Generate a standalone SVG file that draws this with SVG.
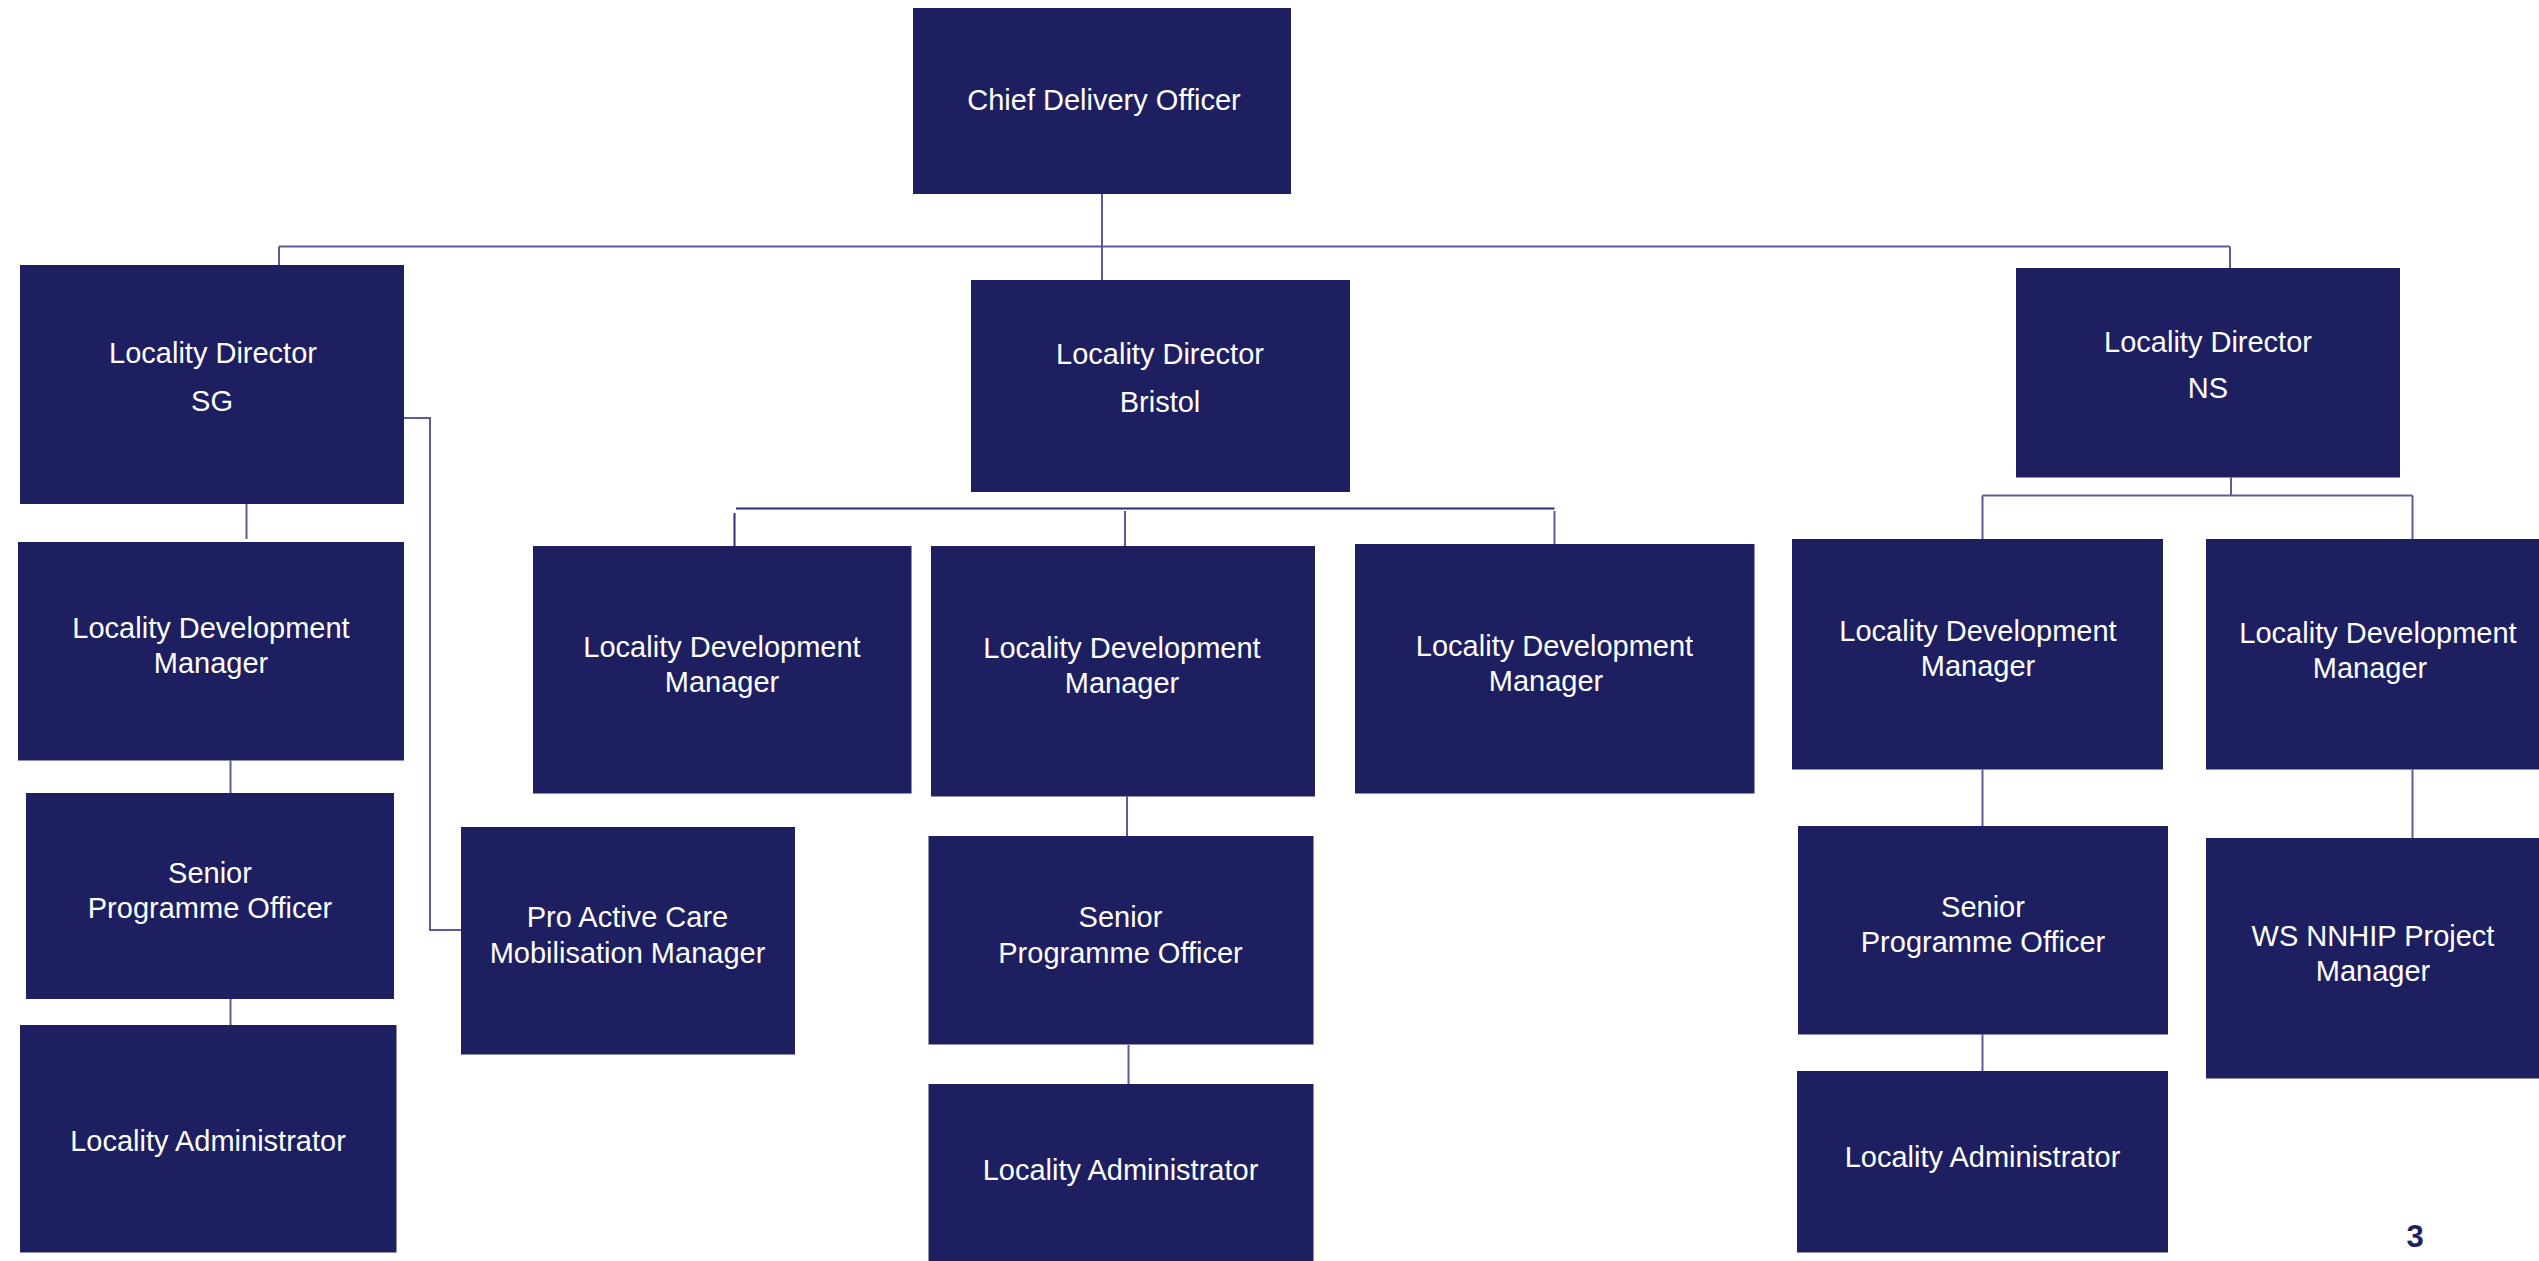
<svg xmlns="http://www.w3.org/2000/svg" width="2539" height="1261" viewBox="0 0 2539 1261">
<style>
.box{fill:#1e1f60}
.t{font-family:"Liberation Sans",Arial,sans-serif;font-size:29px;fill:#ffffff;text-anchor:middle}
.c{fill:none;stroke:#5a5c98;stroke-width:2}
.cd{fill:none;stroke:#2c2e74;stroke-width:2}
.pg{font-family:"Liberation Sans",Arial,sans-serif;font-size:31px;font-weight:bold;fill:#1e1f60;text-anchor:middle}
</style>
<rect width="2539" height="1261" fill="#ffffff"/>
<g id="connectors">
<path class="c" d="M1102,194 V280"/>
<path class="c" d="M279,246.5 H2230"/>
<path class="c" d="M279,246.5 V265"/>
<path class="c" d="M2230,246.5 V268"/>
<path class="c" d="M404,418 H430 V930 H461"/>
<path class="c" d="M246.5,504 V539"/>
<path class="c" d="M230.5,760.5 V793"/>
<path class="c" d="M230.5,999 V1025"/>
<path class="cd" d="M736,508.5 H1554.5"/>
<path class="cd" d="M734.5,513 V546"/>
<path class="c" d="M1125,511 V546"/>
<path class="c" d="M1554.5,511 V544"/>
<path class="c" d="M1127,796.5 V836"/>
<path class="c" d="M1128.5,1045 V1084"/>
<path class="c" d="M2231,477.5 V495.5"/>
<path class="c" d="M1982.5,495.5 H2412.5"/>
<path class="c" d="M1982.5,495.5 V539"/>
<path class="c" d="M2412.5,495.5 V539"/>
<path class="c" d="M1982.5,769.5 V826"/>
<path class="c" d="M1982.5,1034.5 V1071"/>
<path class="c" d="M2412.5,769.5 V838"/>
</g>
<g id="chief"><rect class="box" x="913" y="8" width="378" height="186"/><text class="t" x="1104" y="109.5">Chief Delivery Officer</text></g>
<g id="ld-sg"><rect class="box" x="20" y="265" width="384" height="239"/><text class="t" x="213" y="362.5">Locality Director</text><text class="t" x="212" y="410.5">SG</text></g>
<g id="ld-bristol"><rect class="box" x="971" y="280" width="379" height="212"/><text class="t" x="1160" y="363.5">Locality Director</text><text class="t" x="1160" y="411.5">Bristol</text></g>
<g id="ld-ns"><rect class="box" x="2016" y="268" width="384" height="209.5"/><text class="t" x="2208" y="351.5">Locality Director</text><text class="t" x="2208" y="398">NS</text></g>
<g id="sg-ldm"><rect class="box" x="18" y="542" width="386" height="218.5"/><text class="t" x="211" y="637.5">Locality Development</text><text class="t" x="211" y="673">Manager</text></g>
<g id="sg-spo"><rect class="box" x="26" y="793" width="368" height="206"/><text class="t" x="210" y="883">Senior</text><text class="t" x="210" y="918">Programme Officer</text></g>
<g id="sg-la"><rect class="box" x="20" y="1025" width="376.5" height="227.5"/><text class="t" x="208" y="1150.5">Locality Administrator</text></g>
<g id="sg-pac"><rect class="box" x="461" y="827" width="334" height="227.5"/><text class="t" x="627.5" y="927">Pro Active Care</text><text class="t" x="627.5" y="963">Mobilisation Manager</text></g>
<g id="br-ldm1"><rect class="box" x="533" y="546" width="378.5" height="247.5"/><text class="t" x="722" y="656.5">Locality Development</text><text class="t" x="722" y="692">Manager</text></g>
<g id="br-ldm2"><rect class="box" x="931" y="546" width="384" height="250.5"/><text class="t" x="1122" y="658">Locality Development</text><text class="t" x="1122" y="693">Manager</text></g>
<g id="br-ldm3"><rect class="box" x="1355" y="544" width="399.5" height="249.5"/><text class="t" x="1554.5" y="655.5">Locality Development</text><text class="t" x="1546" y="690.5">Manager</text></g>
<g id="br-spo"><rect class="box" x="928.5" y="836" width="385" height="208.5"/><text class="t" x="1120.5" y="926.5">Senior</text><text class="t" x="1120.5" y="963">Programme Officer</text></g>
<g id="br-la"><rect class="box" x="928.5" y="1084" width="385" height="177"/><text class="t" x="1120.5" y="1179.5">Locality Administrator</text></g>
<g id="ns-ldm1"><rect class="box" x="1792" y="539" width="371" height="230.5"/><text class="t" x="1978" y="640.5">Locality Development</text><text class="t" x="1978" y="675.5">Manager</text></g>
<g id="ns-ldm2"><rect class="box" x="2206" y="539" width="333" height="230.5"/><text class="t" x="2378" y="642.5">Locality Development</text><text class="t" x="2370" y="677.5">Manager</text></g>
<g id="ns-spo"><rect class="box" x="1798" y="826" width="370" height="208.5"/><text class="t" x="1983" y="916.5">Senior</text><text class="t" x="1983" y="951.5">Programme Officer</text></g>
<g id="ns-la"><rect class="box" x="1797" y="1071" width="371" height="181.5"/><text class="t" x="1982.5" y="1167">Locality Administrator</text></g>
<g id="ns-ws"><rect class="box" x="2206" y="838" width="333" height="240.5"/><text class="t" x="2373" y="946">WS NNHIP Project</text><text class="t" x="2373" y="981">Manager</text></g>
<text class="pg" x="2415" y="1247">3</text>
</svg>
